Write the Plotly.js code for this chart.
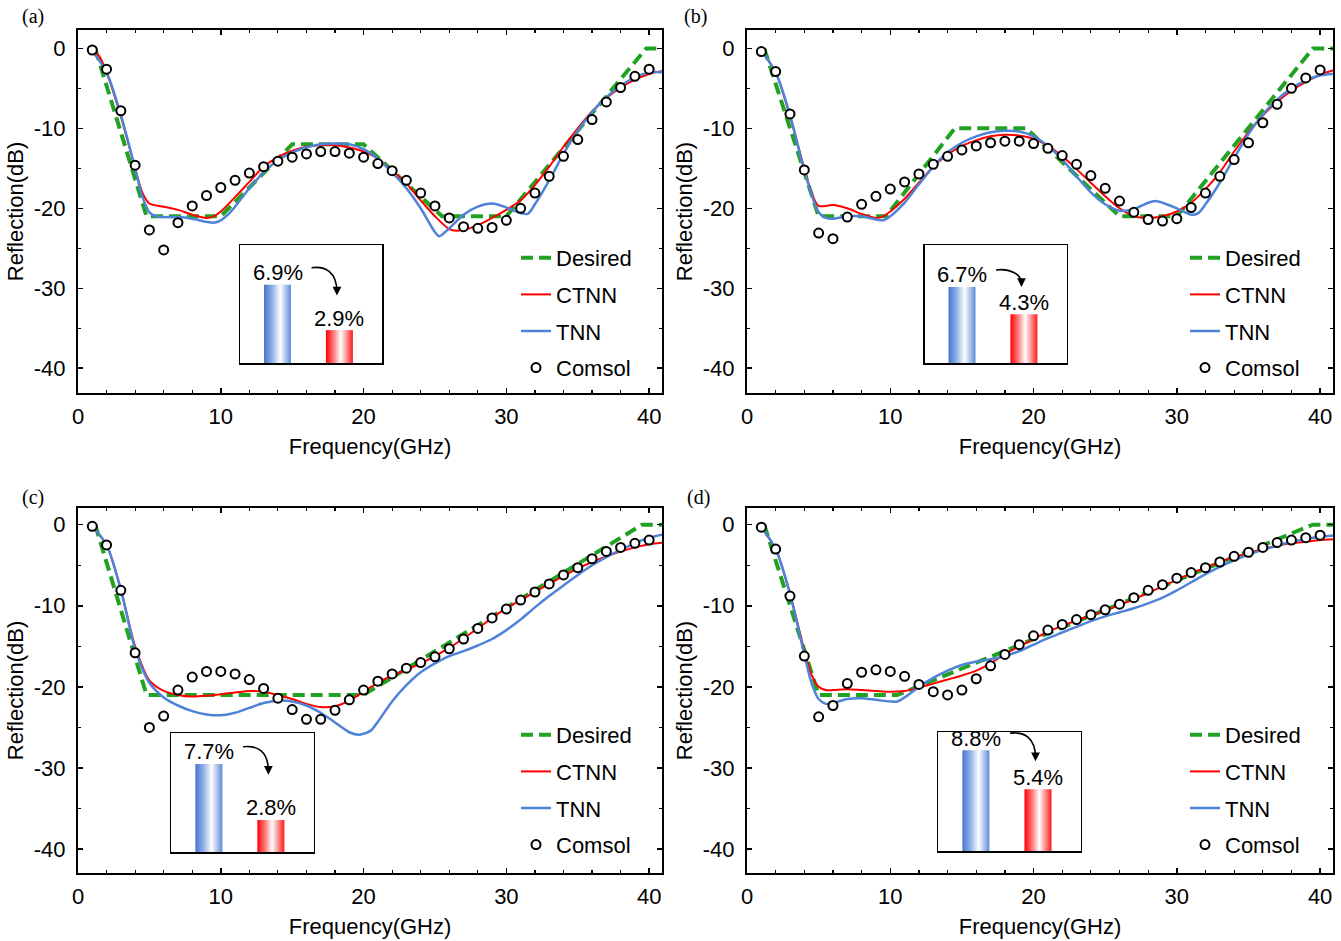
<!DOCTYPE html>
<html>
<head>
<meta charset="utf-8">
<script src="https://cdn.plot.ly/plotly-3.0.1.min.js"></script>
<style>
html,body{margin:0;padding:0;background:#ffffff;}
#chart{width:1341px;height:941px;}
</style>
</head>
<body>
<div id="chart"></div>
<script>
// ---------------- DATA ----------------
const panelLabels = ['(a)', '(b)', '(c)', '(d)'];
const seriesNames = ['Desired', 'CTNN', 'TNN', 'Comsol'];
const xTickVals = [0, 10, 20, 30, 40];
const yTickVals = [-40, -30, -20, -10, 0];
const yTickText = ['-40', '-30', '-20', '-10', '0'];
const xTitle = 'Frequency(GHz)';
const yTitle = 'Reflection(dB)';

const comsolFreq = [1,2,3,4,5,6,7,8,9,10,11,12,13,14,15,16,17,18,19,20,21,22,23,24,25,26,27,28,29,30,31,32,33,34,35,36,37,38,39,40];

// Panel (a)
const desiredFreqA = [1.2, 4.8, 10, 15, 20, 25.5, 30, 39.8, 41];
const desiredA     = [0, -21, -21, -12, -12, -21, -21, 0, 0];
const ctnnFreqA = [1,1.5,2,3,4,4.5,5,6,7,8,9,9.5,10,11,12,13,14,15,16,17,18,19,20,21,22,23,24,25,26,26.5,27,28,29,30,31,32,33,34,35,36,37,38,39,40,41];
const ctnnA     = [-0.2,-1.0,-3.0,-8.5,-15.0,-18.0,-19.4,-19.8,-20.2,-20.8,-21.2,-21.0,-20.4,-18.6,-16.7,-14.8,-13.6,-12.8,-12.3,-12.1,-12.1,-12.4,-12.9,-13.8,-15.3,-16.9,-19.0,-21.0,-22.6,-22.8,-22.7,-22.1,-21.2,-20.2,-19.0,-17.1,-14.8,-12.3,-10.0,-7.9,-6.2,-4.9,-3.9,-3.2,-2.8];
const tnnFreqA = [1,2,3,4,4.5,5,5.5,6,7,8,9,9.5,10,10.5,11,12,13,14,15,16,17,18,19,20,21,22,23,24,25,25.3,26,27,28,29,30,31,31.5,32,33,34,35,36,37,38,39,40,41];
const tnnA     = [-0.3,-3.0,-8.3,-15.0,-18.5,-20.5,-21.0,-21.1,-21.1,-21.3,-21.7,-21.8,-21.5,-20.8,-19.8,-17.5,-15.5,-14.0,-13.0,-12.4,-12.0,-11.9,-12.0,-12.6,-13.8,-15.5,-17.5,-20.0,-23.0,-23.5,-22.5,-20.8,-19.8,-19.4,-19.9,-20.6,-20.7,-19.5,-16.5,-13.2,-10.3,-8.0,-6.1,-4.7,-3.6,-3.0,-3.0];
const comsolA  = [-0.2,-2.6,-7.8,-14.6,-22.7,-25.2,-21.8,-19.7,-18.4,-17.4,-16.5,-15.6,-14.8,-14.1,-13.6,-13.2,-12.9,-12.9,-13.1,-13.6,-14.4,-15.3,-16.5,-18.1,-19.7,-21.2,-22.3,-22.5,-22.4,-21.5,-20.0,-18.1,-16.0,-13.5,-11.4,-8.9,-6.7,-4.9,-3.5,-2.6];
const errA = [6.9, 2.9];

// Panel (b)
const desiredFreqB = [1.2, 5, 9.7, 14.5, 19.5, 26, 30, 39.5, 41];
const desiredB     = [0, -21, -21, -10, -10, -21, -21, 0, 0];
const ctnnFreqB = [1,2,3,4,4.5,5,6,7,8,9,9.5,10,11,12,13,14,15,16,17,18,19,20,21,22,23,24,25,26,27,28,29,30,31,32,33,34,35,36,37,38,39,40,41];
const ctnnB     = [-0.3,-3.0,-8.5,-15.0,-18.0,-19.7,-19.6,-20.0,-20.7,-21.2,-21.0,-20.4,-18.8,-16.8,-14.8,-13.3,-12.2,-11.5,-11.0,-10.8,-10.9,-11.3,-12.2,-13.5,-15.1,-16.8,-18.5,-20.0,-21.0,-21.2,-21.0,-20.4,-19.3,-17.6,-15.5,-12.9,-10.5,-8.4,-6.7,-5.3,-4.2,-3.3,-2.7];
const tnnFreqB = [1,2,3,4,5,5.5,6,7,8,9,9.5,10,11,12,13,14,15,16,17,18,19,20,21,22,23,24,25,26,27,28,28.5,29,30,31,31.5,32,33,34,35,36,37,38,39,40,41];
const tnnB     = [-0.3,-3.0,-8.3,-15.3,-20.5,-21.2,-21.3,-21.0,-21.0,-21.4,-21.5,-21.0,-19.3,-17.0,-14.8,-13.0,-11.8,-11.0,-10.5,-10.3,-10.4,-11.0,-12.2,-13.9,-16.0,-18.0,-19.5,-20.3,-20.1,-19.3,-19.1,-19.3,-20.0,-20.8,-20.6,-19.5,-16.8,-13.7,-10.7,-8.3,-6.4,-5.0,-4.0,-3.4,-3.2];
const comsolB  = [-0.4,-2.9,-8.2,-15.2,-23.1,-23.8,-21.1,-19.5,-18.5,-17.6,-16.7,-15.7,-14.5,-13.5,-12.7,-12.2,-11.8,-11.6,-11.6,-11.9,-12.5,-13.4,-14.5,-15.9,-17.5,-19.1,-20.5,-21.4,-21.6,-21.3,-19.9,-18.1,-16.0,-13.9,-11.8,-9.3,-7.0,-5.0,-3.7,-2.7];
const errB = [6.7, 4.3];

// Panel (c)
const desiredFreqC = [1.2, 4.8, 20, 39.5, 41];
const desiredC     = [0, -21, -21, 0, 0];
const ctnnFreqC = [1,2,3,4,5,6,7,8,9,10,11,12,13,14,15,16,17,18,19,20,21,22,23,24,25,26,27,28,29,30,31,32,33,34,35,36,37,38,39,40,41];
const ctnnC     = [-0.2,-2.5,-8.0,-15.0,-19.2,-20.5,-21.0,-21.2,-21.1,-20.9,-20.7,-20.5,-20.6,-21.0,-21.5,-22.1,-22.5,-22.4,-21.7,-20.6,-19.5,-18.6,-17.9,-17.1,-16.2,-15.2,-14.0,-12.8,-11.5,-10.3,-9.3,-8.3,-7.3,-6.3,-5.4,-4.6,-3.9,-3.3,-2.8,-2.4,-2.2];
const tnnFreqC = [1,2,3,4,5,6,7,8,9,10,11,12,13,14,15,16,17,18,19,19.7,20.5,21,22,23,24,25,26,27,28,29,30,31,32,33,34,35,36,37,38,39,40,41];
const tnnC     = [-0.2,-2.5,-8.0,-15.3,-19.5,-21.3,-22.3,-23.0,-23.4,-23.5,-23.2,-22.6,-22.0,-21.7,-21.8,-22.3,-23.2,-24.4,-25.6,-25.9,-25.4,-24.3,-21.8,-19.8,-18.2,-17.1,-16.2,-15.6,-14.9,-14.1,-13.0,-11.7,-10.2,-8.8,-7.5,-6.2,-5.0,-4.0,-3.1,-2.3,-1.6,-1.2];
const comsolC  = [-0.2,-2.5,-8.1,-15.8,-25.0,-23.6,-20.4,-18.8,-18.1,-18.1,-18.4,-19.1,-20.2,-21.4,-22.8,-24.0,-24.0,-22.9,-21.6,-20.4,-19.3,-18.4,-17.7,-17.0,-16.3,-15.3,-14.1,-12.8,-11.5,-10.4,-9.3,-8.3,-7.3,-6.2,-5.3,-4.2,-3.3,-2.8,-2.3,-1.9];
const errC = [7.7, 2.8];

// Panel (d)
const desiredFreqD = [1.2, 5, 10.5, 39.5, 41];
const desiredD     = [0, -21, -21, 0, 0];
const ctnnFreqD = [1,2,3,4,4.5,5,5.5,6,7,8,9,10,11,12,13,14,15,16,17,18,19,20,21,22,23,24,25,26,27,28,29,30,31,32,33,34,35,36,37,38,39,40,41];
const ctnnD     = [-0.3,-3.0,-8.5,-15.5,-18.5,-20.0,-20.4,-20.4,-20.3,-20.4,-20.5,-20.6,-20.5,-20.1,-19.6,-19.1,-18.6,-18.0,-17.1,-16.0,-15.0,-14.1,-13.2,-12.5,-11.8,-11.2,-10.6,-9.9,-9.2,-8.4,-7.6,-6.8,-6.0,-5.3,-4.6,-4.0,-3.5,-3.0,-2.6,-2.3,-2.1,-1.9,-1.8];
const tnnFreqD = [1,2,3,4,4.5,5,5.5,6,7,8,9,10,10.5,11,12,13,14,15,16,17,18,19,20,21,22,23,24,25,26,27,28,29,30,31,32,33,34,35,36,37,38,39,40,41];
const tnnD     = [-0.3,-3.0,-8.5,-16.0,-19.5,-21.5,-22.1,-22.0,-21.5,-21.4,-21.6,-21.8,-21.8,-21.3,-20.0,-18.9,-18.0,-17.3,-16.9,-16.6,-16.2,-15.6,-14.8,-14.0,-13.3,-12.6,-11.9,-11.3,-10.8,-10.3,-9.7,-9.0,-8.1,-7.1,-6.1,-5.2,-4.4,-3.7,-3.1,-2.6,-2.1,-1.8,-1.5,-1.3];
const comsolD  = [-0.3,-3.0,-8.8,-16.2,-23.7,-22.3,-19.6,-18.2,-17.9,-18.1,-18.7,-19.7,-20.6,-21.0,-20.4,-19.0,-17.4,-16.0,-14.8,-13.7,-13.0,-12.3,-11.7,-11.1,-10.5,-9.8,-9.0,-8.1,-7.4,-6.6,-5.9,-5.3,-4.6,-3.9,-3.4,-2.8,-2.2,-1.9,-1.6,-1.3];
const errD = [8.8, 5.4];

// inset categories (TNN error, CTNN error) and their positions on the inset axis
const insetCategories = ['TNN', 'CTNN'];
const insetPositions = [1, 2];

// ---------------- STYLE / LAYOUT ----------------
const FONT = 'Liberation Sans, Arial, Helvetica, sans-serif';
const SERIF = 'Liberation Serif, Times New Roman, serif';
const W = 1341, H = 941;
const px = v => v / W;
const py = v => 1 - v / H;

const panels = [
  {desX: desiredFreqA, desY: desiredA, ctX: ctnnFreqA, ctY: ctnnA, tnX: tnnFreqA, tnY: tnnA, cmY: comsolA, err: errA,
   box: [78, 662, 30, 393], yr: [-43.1, 2.3], inset: [240, 382, 245, 363], lab: [33, 16], leg: [516, 237]},
  {desX: desiredFreqB, desY: desiredB, ctX: ctnnFreqB, ctY: ctnnB, tnX: tnnFreqB, tnY: tnnB, cmY: comsolB, err: errB,
   box: [747, 1333, 30, 393], yr: [-43.1, 2.3], inset: [924.5, 1066.5, 245, 363], lab: [696, 16], leg: [1185, 237]},
  {desX: desiredFreqC, desY: desiredC, ctX: ctnnFreqC, ctY: ctnnC, tnX: tnnFreqC, tnY: tnnC, cmY: comsolC, err: errC,
   box: [78, 662, 508, 873], yr: [-42.96, 2.06], inset: [171.3, 313.5, 733, 852], lab: [33, 498], leg: [516, 714]},
  {desX: desiredFreqD, desY: desiredD, ctX: ctnnFreqD, ctY: ctnnD, tnX: tnnFreqD, tnY: tnnD, cmY: comsolD, err: errD,
   box: [747, 1333, 508, 873], yr: [-42.96, 2.06], inset: [938.3, 1080.7, 732, 851], lab: [698, 497], leg: [1185, 714]}
];

const GREEN = '#22a222', RED = '#ff0000', BLUE = '#4f83d8';
const blueScale = [[0, '#4675cc'], [0.3, '#8fb0e6'], [0.6, '#ffffff'], [1, '#5d8bd8']];
const redScale  = [[0, '#ff0000'], [0.3, '#ff8080'], [0.55, '#ffffff'], [1, '#ff1a1a']];

const insetXRange = [0.394, 2.688];
const insetYRange = [0, 10.4];
const barHalf = 0.218;

const traces = [];
const layout = {
  width: W, height: H,
  margin: {l: 0, r: 0, t: 0, b: 0, pad: 0},
  paper_bgcolor: '#ffffff', plot_bgcolor: '#ffffff',
  font: {family: FONT, size: 22, color: '#000'},
  showlegend: true,
  annotations: [], shapes: []
};

panels.forEach((p, i) => {
  const n = i + 1;
  const xa = n === 1 ? 'x' : 'x' + n;
  const ya = n === 1 ? 'y' : 'y' + n;
  const legName = n === 1 ? 'legend' : 'legend' + n;
  const base = {xaxis: xa, yaxis: ya, legend: legName, hoverinfo: 'skip'};

  traces.push(Object.assign({}, base, {
    type: 'scatter', mode: 'lines', name: seriesNames[0], x: p.desX, y: p.desY,
    line: {color: GREEN, width: 4, dash: '12px,6px'}, legendgroup: 'g0' + n
  }));
  traces.push(Object.assign({}, base, {
    type: 'scatter', mode: 'lines', name: seriesNames[1], x: p.ctX, y: p.ctY,
    line: {color: RED, width: 2, shape: 'spline', smoothing: 0.8}, legendgroup: 'g1' + n
  }));
  traces.push(Object.assign({}, base, {
    type: 'scatter', mode: 'lines', name: seriesNames[2], x: p.tnX, y: p.tnY,
    line: {color: BLUE, width: 2.5, shape: 'spline', smoothing: 0.8}, legendgroup: 'g2' + n
  }));
  traces.push(Object.assign({}, base, {
    type: 'scatter', mode: 'markers', name: seriesNames[3], x: comsolFreq, y: p.cmY,
    marker: {symbol: 'circle', size: 9, color: '#ffffff', line: {color: '#000', width: 2}},
    legendgroup: 'g3' + n
  }));

  const axKey = n === 1 ? 'xaxis' : 'xaxis' + n;
  const ayKey = n === 1 ? 'yaxis' : 'yaxis' + n;
  layout[axKey] = {
    domain: [px(p.box[0]), px(p.box[1])], anchor: ya,
    range: [0, 40.9], tickmode: 'array', tickvals: xTickVals,
    ticks: 'inside', ticklen: 5, tickwidth: 1.5, tickcolor: '#000',
    minor: {dtick: 2, tick0: 0, ticks: 'inside', ticklen: 3, tickwidth: 1.2, tickcolor: '#000', showgrid: false},
    showline: true, linewidth: 2, linecolor: '#000', mirror: 'allticks',
    showgrid: false, zeroline: false, automargin: false,
    tickfont: {family: FONT, size: 22, color: '#000'}, ticklabelstandoff: 3,
    title: {text: xTitle, font: {family: FONT, size: 22, color: '#000'}, standoff: 10}
  };
  layout[ayKey] = {
    domain: [py(p.box[3]), py(p.box[2])], anchor: xa,
    range: p.yr, tickmode: 'array', tickvals: yTickVals, ticktext: yTickText,
    ticks: 'inside', ticklen: 5, tickwidth: 1.5, tickcolor: '#000',
    minor: {dtick: 5, tick0: 0, ticks: 'inside', ticklen: 3, tickwidth: 1.2, tickcolor: '#000', showgrid: false},
    showline: true, linewidth: 2, linecolor: '#000', mirror: 'allticks',
    showgrid: false, zeroline: false, automargin: false,
    tickfont: {family: FONT, size: 22, color: '#000'}, ticklabelstandoff: 6,
    title: {text: yTitle, font: {family: FONT, size: 22, color: '#000'}, standoff: 4}
  };

  layout[legName] = {
    x: px(p.leg[0]), y: py(p.leg[1]), xanchor: 'left', yanchor: 'top',
    bgcolor: 'rgba(0,0,0,0)', borderwidth: 0,
    font: {family: FONT, size: 22, color: '#000'},
    traceorder: 'grouped', tracegroupgap: 5, itemwidth: 30
  };

  // panel label
  layout.annotations.push({
    xref: 'paper', yref: 'paper', x: px(p.lab[0]), y: py(p.lab[1]),
    xanchor: 'center', yanchor: 'middle', showarrow: false,
    text: panelLabels[i], font: {family: SERIF, size: 20, color: '#000'}
  });

  // inset
  const m = n + 4;
  const ix = 'x' + m, iy = 'y' + m;
  layout['xaxis' + m] = {
    domain: [px(p.inset[0]), px(p.inset[1])], anchor: iy, range: insetXRange,
    showline: true, linewidth: 1.5, linecolor: '#000', mirror: true,
    showticklabels: false, ticks: '', showgrid: false, zeroline: false, fixedrange: true
  };
  layout['yaxis' + m] = {
    domain: [py(p.inset[3]), py(p.inset[2])], anchor: ix, range: insetYRange,
    showline: true, linewidth: 1.5, linecolor: '#000', mirror: true,
    showticklabels: false, ticks: '', showgrid: false, zeroline: false, fixedrange: true
  };
  p.err.forEach((v, k) => {
    const c = insetPositions[k];
    traces.push({
      type: 'scatter', mode: 'lines', xaxis: ix, yaxis: iy, showlegend: false, hoverinfo: 'skip',
      name: insetCategories[k],
      x: [c - barHalf, c + barHalf, c + barHalf, c - barHalf, c - barHalf],
      y: [0, 0, v, v, 0],
      fill: 'toself', line: {width: 0, color: 'rgba(0,0,0,0)'},
      fillgradient: {type: 'horizontal', colorscale: k === 0 ? blueScale : redScale}
    });
    layout.annotations.push({
      xref: ix, yref: iy, x: c, y: v, yshift: 12, xanchor: 'center', yanchor: 'middle',
      showarrow: false, text: v.toFixed(1) + '%', font: {family: FONT, size: 22, color: '#000'}
    });
  });
  // curved arrow from first label towards second label
  const xs = 1.55, ys = p.err[0] + 1.5;
  const xe = 1.96, ye = Math.max(ys - 2.45, p.err[1] + 2.4);
  layout.shapes.push({
    type: 'path', xref: ix, yref: iy,
    path: `M ${xs} ${ys} C ${xs + 0.22} ${ys + 0.15}, ${xe} ${ys - 0.35}, ${xe} ${ye + 0.3}`,
    line: {color: '#000', width: 1.6}
  });
  layout.annotations.push({
    xref: ix, yref: iy, x: xe, y: ye, ax: 0, ay: -9, axref: 'pixel', ayref: 'pixel',
    showarrow: true, arrowhead: 2, arrowsize: 1.1, arrowwidth: 1.6, arrowcolor: '#000', text: ''
  });
});

Plotly.newPlot('chart', traces, layout, {displayModeBar: false, staticPlot: true});
</script>
</body>
</html>
